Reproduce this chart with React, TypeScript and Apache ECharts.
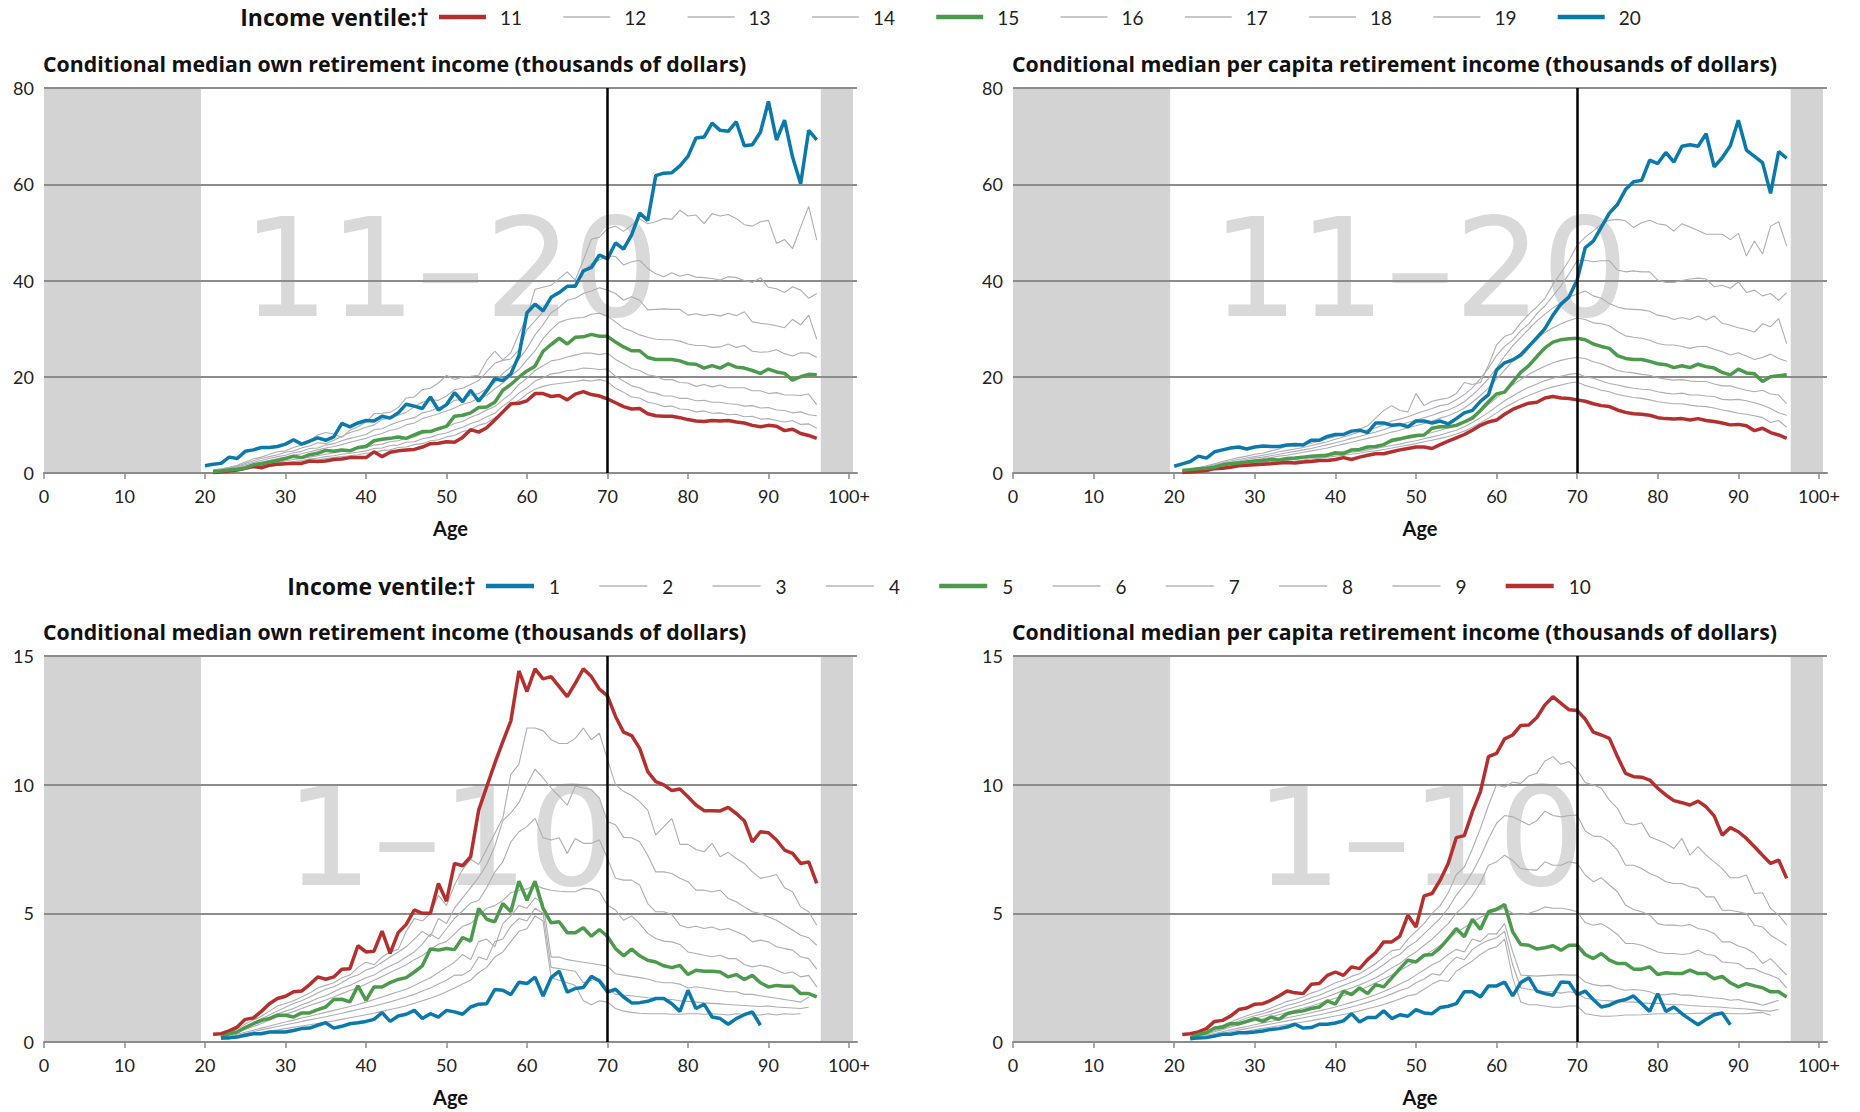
import React, { useEffect, useRef } from "react";
import * as echarts from "echarts";

// ---------- categories / ticks ----------
const AGES = [
  20, 21, 22, 23, 24, 25, 26, 27, 28, 29,
  30, 31, 32, 33, 34, 35, 36, 37, 38, 39,
  40, 41, 42, 43, 44, 45, 46, 47, 48, 49,
  50, 51, 52, 53, 54, 55, 56, 57, 58, 59,
  60, 61, 62, 63, 64, 65, 66, 67, 68, 69,
  70, 71, 72, 73, 74, 75, 76, 77, 78, 79,
  80, 81, 82, 83, 84, 85, 86, 87, 88, 89,
  90, 91, 92, 93, 94, 95, 96,
];
const X_TICKS = [0, 10, 20, 30, 40, 50, 60, 70, 80, 90, 100];
const TOP_NAMES = ["11", "12", "13", "14", "15", "16", "17", "18", "19", "20"];
const BOTTOM_NAMES = ["1", "2", "3", "4", "5", "6", "7", "8", "9", "10"];
const LEGEND_TITLE = "Income ventile:\u2020";
const TITLE_OWN = "Conditional median own retirement income (thousands of dollars)";
const TITLE_PC = "Conditional median per capita retirement income (thousands of dollars)";
const MARK_TOP = "11\u201320";
const MARK_BOTTOM = "1\u201310";
const TOP_Y_TICKS = [0, 20, 40, 60, 80];
const BOTTOM_Y_TICKS = [0, 5, 10, 15];

// ---------- top-left: own income, ventiles 11-20 ----------
const OWN_11 = [
  null, 0.1, 0.2, 0.4, 0.6, 1.0, 1.4, 1.1, 1.6, 1.8,
  1.9, 2.0, 2.0, 2.5, 2.4, 2.5, 2.8, 2.9, 3.2, 3.2,
  3.2, 4.4, 3.4, 4.3, 4.6, 4.8, 4.9, 5.4, 6.1, 6.2,
  6.5, 6.4, 7.4, 9.0, 8.5, 9.4, 11.0, 12.7, 14.4, 14.5,
  15.0, 16.5, 16.5, 15.9, 16.1, 15.2, 16.4, 16.9, 16.3, 16.0,
  15.4, 14.6, 13.8, 13.3, 13.4, 12.3, 11.9, 11.8, 11.8, 11.5,
  11.1, 10.8, 10.7, 10.9, 10.8, 10.9, 10.6, 10.4, 9.9, 9.6,
  9.9, 9.7, 8.8, 9.1, 8.2, 7.8, 7.2,
];
const OWN_12 = [
  null, 0.2, 0.3, 0.4, 0.6, 0.8, 1.0, 1.2, 1.4, 1.6,
  1.8, 2.1, 2.3, 2.5, 2.7, 3.0, 3.2, 3.4, 3.6, 3.8,
  4.1, 4.2, 4.7, 4.8, 5.3, 5.4, 5.9, 6.1, 6.7, 6.9,
  7.5, 7.8, 8.6, 9.0, 9.9, 10.4, 11.5, 12.5, 14.0, 15.1,
  16.4, 17.4, 18.0, 18.4, 18.6, 18.8, 19.0, 19.3, 19.1, 19.4,
  19.0, 17.6, 16.8, 15.8, 15.6, 14.7, 14.4, 13.8, 13.9, 13.3,
  13.2, 12.7, 12.9, 12.4, 12.5, 12.1, 12.2, 11.7, 11.8, 11.2,
  11.3, 10.9, 10.6, 10.9, 10.1, 10.2, 9.3,
];
const OWN_13 = [
  null, 0.25, 0.35, 0.5, 0.7, 0.9, 1.1, 1.4, 1.6, 1.9,
  2.1, 2.4, 2.6, 2.9, 3.1, 3.4, 3.6, 3.9, 4.1, 4.3,
  4.6, 5.1, 5.2, 5.7, 5.8, 6.4, 6.5, 7.1, 7.4, 8.0,
  8.3, 9.0, 9.5, 10.3, 10.8, 11.7, 12.4, 13.9, 15.1, 16.6,
  17.7, 19.1, 19.8, 20.6, 20.8, 21.3, 21.4, 21.8, 21.7, 21.5,
  21.6, 20.1, 19.1, 18.1, 17.7, 16.9, 16.6, 16.0, 16.0, 15.5,
  15.5, 15.0, 15.1, 14.7, 14.7, 14.4, 14.3, 13.9, 14.0, 13.5,
  13.6, 13.1, 13.0, 12.5, 12.7, 12.1, 11.9,
];
const OWN_14 = [
  null, 0.3, 0.4, 0.6, 0.8, 1.0, 1.3, 1.6, 1.9, 2.2,
  2.5, 2.8, 3.0, 3.3, 3.6, 3.9, 4.2, 4.4, 4.7, 5.0,
  5.3, 5.8, 6.0, 6.5, 6.7, 7.3, 7.5, 8.2, 8.5, 9.2,
  9.5, 10.3, 10.7, 11.6, 12.2, 13.1, 13.8, 15.2, 16.5, 18.4,
  19.7, 21.3, 22.3, 23.3, 23.6, 24.1, 24.5, 24.9, 24.9, 24.6,
  24.9, 23.6, 22.7, 21.7, 21.3, 20.4, 20.1, 19.4, 19.4, 18.8,
  18.7, 18.0, 18.4, 17.9, 18.3, 17.7, 17.7, 17.7, 17.1, 17.1,
  16.5, 16.7, 16.2, 16.2, 16.1, 16.4, 14.2,
];
const OWN_15 = [
  null, 0.3, 0.4, 0.6, 0.8, 1.0, 1.7, 1.9, 2.3, 2.6,
  3.0, 3.5, 3.2, 3.8, 4.1, 4.7, 4.5, 4.8, 4.6, 5.3,
  5.5, 6.7, 7.0, 7.2, 7.5, 7.2, 7.9, 8.6, 8.6, 9.2,
  9.7, 11.8, 12.0, 12.5, 13.6, 13.7, 14.7, 17.2, 18.4, 19.9,
  21.2, 22.2, 25.3, 26.7, 28.0, 26.8, 28.2, 28.3, 28.8, 28.4,
  28.4, 27.2, 26.2, 25.4, 25.4, 24.0, 23.6, 23.6, 23.6, 23.3,
  22.7, 22.6, 21.8, 22.3, 21.8, 22.7, 22.0, 21.8, 21.3, 20.7,
  21.6, 21.0, 20.7, 19.3, 20.0, 20.5, 20.4,
];
const OWN_16 = [
  null, 0.4, 0.6, 0.9, 1.1, 1.5, 1.9, 2.3, 2.6, 3.0,
  3.3, 3.7, 4.0, 4.4, 4.8, 5.2, 5.5, 5.9, 6.4, 6.8,
  7.2, 7.8, 8.2, 8.9, 9.2, 10.0, 10.4, 11.3, 11.8, 12.3,
  12.9, 13.5, 14.3, 14.7, 15.6, 16.1, 17.5, 18.7, 20.2, 21.5,
  23.5, 25.4, 27.9, 29.8, 31.3, 31.9, 32.2, 32.3, 33.0, 33.2,
  32.6, 31.4, 30.1, 29.5, 28.7, 28.2, 27.8, 27.7, 27.7, 27.4,
  26.8, 26.5, 26.5, 26.1, 26.2, 26.8, 26.1, 26.5, 25.3, 25.1,
  25.2, 25.6, 24.8, 24.3, 25.0, 24.9, 24.0,
];
const OWN_17 = [
  null, 0.5, 0.7, 1.0, 1.3, 1.7, 2.2, 2.6, 3.0, 3.4,
  3.7, 4.2, 4.5, 5.1, 5.2, 5.8, 6.1, 6.7, 7.2, 7.6,
  8.0, 9.0, 9.2, 10.0, 10.6, 11.1, 11.5, 12.5, 12.9, 13.6,
  14.0, 15.1, 15.3, 16.2, 16.5, 17.5, 18.8, 20.7, 22.0, 23.6,
  25.9, 28.7, 30.8, 33.3, 34.4, 35.9, 36.3, 37.3, 37.8, 38.5,
  38.0, 37.3, 35.9, 36.6, 35.9, 33.9, 34.0, 34.1, 34.0, 34.0,
  32.8, 33.1, 32.7, 33.0, 32.6, 33.2, 32.7, 33.5, 31.4, 31.1,
  30.9, 30.6, 30.2, 31.9, 30.8, 32.8, 27.8,
];
const OWN_18 = [
  null, 0.5, 0.8, 1.1, 1.4, 2.0, 2.5, 3.0, 3.4, 3.8,
  4.3, 4.6, 5.2, 5.6, 6.3, 6.1, 6.8, 7.6, 8.4, 8.9,
  9.5, 10.0, 11.1, 11.4, 12.0, 12.6, 13.8, 14.7, 15.2, 15.1,
  16.0, 17.3, 17.6, 18.4, 19.2, 21.0, 22.8, 23.4, 23.7, 25.6,
  29.8, 31.6, 33.5, 36.5, 37.6, 38.8, 39.2, 41.8, 43.5, 44.3,
  45.1, 45.0, 43.2, 43.9, 44.2, 42.5, 41.4, 40.8, 41.6, 40.9,
  41.3, 40.7, 40.6, 40.4, 40.1, 40.8, 40.6, 40.0, 39.6, 40.6,
  38.6, 38.3, 37.5, 38.7, 38.0, 36.3, 37.3,
];
const OWN_19 = [
  null, 0.6, 0.9, 1.2, 1.6, 2.3, 2.9, 3.3, 3.9, 4.4,
  4.6, 5.3, 5.8, 6.7, 7.9, 8.4, 8.1, 7.4, 8.9, 9.6,
  10.6, 12.3, 12.4, 12.6, 13.6, 15.6, 15.8, 17.3, 17.6, 18.7,
  20.3, 19.4, 20.0, 20.1, 20.3, 23.4, 25.3, 23.5, 25.0, 29.0,
  32.4, 38.2, 38.6, 39.0, 40.4, 41.8, 40.1, 44.2, 48.6, 49.0,
  50.8, 51.3, 50.2, 51.5, 52.8, 51.8, 52.2, 52.9, 52.7, 54.6,
  53.4, 53.6, 51.8, 53.9, 53.4, 53.7, 52.9, 51.6, 51.3, 52.2,
  52.5, 47.7, 48.5, 46.6, 51.1, 55.4, 48.4,
];
const OWN_20 = [
  1.5, 1.8, 2.0, 3.3, 3.0, 4.5, 4.8, 5.3, 5.3, 5.5,
  6.0, 6.9, 6.0, 6.6, 7.3, 6.8, 7.5, 10.3, 9.6, 10.4,
  10.9, 10.8, 11.8, 11.4, 12.5, 14.3, 13.9, 13.4, 15.8, 13.1,
  14.2, 16.7, 14.8, 17.2, 14.9, 17.1, 19.6, 19.2, 20.6, 24.4,
  33.3, 35.1, 33.7, 36.5, 37.5, 38.8, 38.8, 42.0, 42.7, 45.3,
  44.5, 47.8, 46.5, 49.5, 54.0, 52.5, 61.8, 62.3, 62.4, 63.8,
  65.8, 69.6, 69.8, 72.7, 71.2, 71.0, 73.0, 68.0, 68.2, 70.8,
  77.2, 69.2, 73.3, 65.6, 60.1, 71.2, 69.2,
];

// ---------- top-right: per capita income, ventiles 11-20 ----------
const PC_11 = [
  null, 0.1, 0.2, 0.35, 0.5, 0.9, 1.0, 1.2, 1.5, 1.6,
  1.7, 1.8, 1.9, 2.1, 2.2, 2.1, 2.3, 2.4, 2.6, 2.6,
  2.8, 3.2, 2.8, 3.3, 3.7, 4.0, 4.0, 4.4, 4.8, 5.1,
  5.4, 5.4, 5.1, 5.9, 6.6, 7.3, 8.0, 8.9, 9.9, 10.6,
  11.0, 12.2, 13.2, 13.9, 14.5, 14.7, 15.6, 15.9, 15.6, 15.5,
  15.2, 14.9, 14.4, 14.0, 13.8, 13.1, 12.6, 12.3, 12.2, 12.0,
  11.5, 11.3, 11.2, 11.3, 11.0, 11.3, 10.9, 10.7, 10.4, 10.0,
  10.1, 9.8, 8.8, 9.3, 8.4, 7.9, 7.2,
];
const PC_12 = [
  null, 0.15, 0.25, 0.4, 0.6, 0.8, 1.0, 1.2, 1.4, 1.5,
  1.7, 1.9, 2.0, 2.2, 2.4, 2.5, 2.7, 2.9, 3.1, 3.3,
  3.5, 3.7, 3.9, 4.1, 4.4, 4.6, 4.9, 5.2, 5.5, 5.8,
  6.1, 6.5, 6.8, 7.2, 7.6, 8.1, 8.7, 9.5, 10.4, 11.4,
  12.5, 13.6, 14.5, 15.4, 16.1, 16.8, 17.4, 17.9, 18.3, 18.7,
  18.9, 18.2, 17.7, 17.2, 16.9, 16.3, 16.0, 15.7, 15.5, 15.2,
  14.8, 14.6, 14.4, 14.4, 14.1, 13.9, 13.8, 13.5, 13.1, 12.8,
  12.4, 12.2, 11.9, 11.5, 10.5, 10.9, 9.5,
];
const PC_13 = [
  null, 0.2, 0.3, 0.5, 0.7, 0.9, 1.1, 1.3, 1.5, 1.7,
  1.9, 2.1, 2.2, 2.4, 2.6, 2.8, 3.0, 3.2, 3.4, 3.6,
  3.8, 4.0, 4.3, 4.5, 4.8, 5.1, 5.4, 5.7, 6.0, 6.4,
  6.7, 7.1, 7.5, 7.9, 8.4, 8.9, 9.6, 10.5, 11.5, 12.6,
  13.8, 15.0, 16.0, 17.0, 17.8, 18.5, 19.2, 19.7, 20.1, 20.5,
  20.7, 20.0, 19.7, 19.1, 18.6, 18.3, 17.9, 17.6, 17.4, 17.3,
  16.9, 16.6, 16.4, 16.6, 16.2, 16.2, 16.0, 15.9, 15.3, 15.2,
  15.3, 15.0, 14.6, 14.1, 13.4, 12.5, 12.0,
];
const PC_14 = [
  null, 0.25, 0.4, 0.6, 0.8, 1.0, 1.2, 1.5, 1.7, 1.9,
  2.1, 2.3, 2.5, 2.7, 2.9, 3.1, 3.3, 3.5, 3.7, 4.0,
  4.2, 4.5, 4.8, 5.1, 5.4, 5.7, 6.0, 6.4, 6.8, 7.2,
  7.5, 8.0, 8.4, 8.9, 9.4, 10.0, 10.8, 11.8, 12.9, 14.2,
  15.6, 17.0, 18.3, 19.4, 20.5, 21.4, 22.2, 22.9, 23.4, 23.8,
  24.0, 23.8, 23.1, 22.7, 22.0, 21.3, 21.0, 20.8, 20.5, 20.3,
  19.8, 19.5, 19.3, 19.4, 19.1, 19.0, 19.0, 18.5, 18.1, 18.1,
  17.6, 17.2, 16.9, 17.2, 16.4, 16.2, 14.4,
];
const PC_15 = [
  null, 0.5, 0.7, 0.9, 1.0, 1.2, 1.7, 1.9, 2.1, 2.3,
  2.5, 2.6, 2.8, 2.7, 3.0, 3.1, 3.3, 3.5, 3.6, 3.7,
  4.2, 4.0, 4.8, 4.9, 5.4, 5.5, 5.9, 6.8, 7.1, 7.5,
  7.8, 7.9, 9.3, 9.6, 9.6, 9.9, 10.6, 11.4, 13.0, 14.8,
  16.4, 16.8, 18.9, 20.9, 22.3, 24.2, 26.0, 27.2, 27.7, 27.9,
  28.0, 27.7, 26.8, 26.3, 25.9, 24.4, 23.8, 23.6, 23.6, 23.2,
  22.7, 22.5, 21.9, 22.3, 21.9, 22.6, 22.1, 21.8, 20.9, 20.4,
  21.6, 20.8, 20.6, 19.0, 20.0, 20.2, 20.4,
];
const PC_16 = [
  null, 0.3, 0.5, 0.8, 1.0, 1.3, 1.6, 1.9, 2.2, 2.5,
  2.7, 3.0, 3.2, 3.5, 3.7, 4.0, 4.3, 4.6, 4.9, 5.2,
  5.6, 6.0, 6.4, 6.8, 7.2, 7.6, 8.0, 8.5, 8.9, 9.4,
  9.8, 10.3, 10.8, 11.4, 11.9, 12.6, 13.5, 14.7, 16.1, 17.7,
  19.5, 21.4, 23.3, 25.0, 26.6, 28.0, 29.2, 30.2, 31.0, 31.7,
  32.2, 31.9, 31.2, 31.0, 30.6, 29.4, 28.5, 28.2, 28.0, 27.6,
  26.9, 26.6, 26.6, 26.3, 25.9, 26.3, 26.3, 25.7, 25.2, 24.5,
  25.0, 24.3, 23.6, 24.0, 24.7, 23.8, 23.2,
];
const PC_17 = [
  null, 0.4, 0.6, 0.9, 1.2, 1.5, 1.9, 2.2, 2.5, 2.8,
  3.1, 3.3, 3.6, 3.9, 4.2, 4.5, 4.8, 5.1, 5.5, 5.9,
  6.3, 6.7, 7.2, 7.6, 8.1, 8.5, 9.0, 9.6, 10.0, 10.5,
  11.0, 11.5, 12.0, 12.6, 13.1, 13.8, 14.8, 16.2, 17.8, 19.6,
  21.8, 24.3, 26.4, 28.2, 29.9, 31.6, 33.0, 34.3, 35.4, 36.6,
  37.2, 37.8, 36.8, 36.3, 35.2, 34.5, 34.1, 34.0, 33.9, 33.6,
  32.8, 32.5, 31.9, 32.3, 31.9, 32.6, 31.8, 32.6, 31.1, 30.7,
  30.2, 29.8, 29.3, 31.0, 30.4, 32.1, 26.9,
];
const PC_18 = [
  null, 0.4, 0.7, 1.0, 1.3, 1.7, 2.1, 2.5, 2.8, 3.1,
  3.4, 3.7, 4.0, 4.4, 4.7, 5.0, 5.3, 5.7, 6.1, 6.5,
  7.0, 7.5, 8.0, 8.5, 9.0, 9.4, 10.0, 10.8, 11.2, 11.7,
  12.3, 12.9, 13.4, 14.0, 14.3, 15.2, 16.3, 17.7, 19.6, 21.8,
  24.4, 26.3, 27.6, 29.6, 31.0, 33.1, 34.7, 36.8, 38.9, 41.4,
  44.1, 44.2, 43.9, 44.1, 44.1, 42.2, 41.8, 42.0, 41.8, 41.8,
  40.1, 39.6, 39.6, 40.0, 40.3, 40.5, 40.3, 38.7, 39.0, 38.4,
  39.7, 37.5, 38.0, 36.8, 37.3, 35.9, 37.5,
];
const PC_19 = [
  null, 0.5, 0.8, 1.1, 1.5, 1.9, 2.4, 2.8, 3.2, 3.5,
  3.9, 4.1, 4.6, 5.0, 5.6, 5.5, 5.9, 6.2, 6.6, 7.1,
  7.6, 8.1, 8.6, 9.1, 9.8, 11.4, 13.0, 14.0, 13.0, 12.7,
  16.5, 14.0, 14.9, 15.3, 15.6, 16.5, 18.8, 18.4, 18.8, 22.4,
  26.6, 28.4, 29.0, 31.2, 33.0, 34.5, 36.3, 39.2, 41.6, 44.2,
  47.3, 49.0, 50.3, 51.7, 52.5, 52.7, 52.4, 51.0, 52.0, 52.5,
  51.8, 51.5, 50.3, 51.8, 51.1, 50.4, 49.6, 49.6, 49.6, 48.5,
  49.8, 45.1, 48.2, 45.5, 51.3, 52.2, 47.2,
];
const PC_20 = [
  1.4, 1.9, 2.4, 3.5, 3.1, 4.4, 4.8, 5.2, 5.4, 5.0,
  5.4, 5.6, 5.5, 5.5, 5.8, 5.9, 5.8, 6.8, 6.8, 7.6,
  8.0, 8.0, 8.7, 8.9, 8.4, 10.4, 10.4, 9.9, 10.1, 9.6,
  10.8, 10.8, 10.4, 10.8, 10.2, 11.3, 12.5, 13.0, 14.9, 16.3,
  21.4, 22.9, 23.5, 24.5, 26.3, 28.1, 30.0, 32.8, 35.1, 36.6,
  40.1, 46.8, 48.2, 51.1, 54.0, 55.8, 58.9, 60.5, 60.8, 65.0,
  64.3, 66.6, 64.6, 67.9, 68.2, 67.9, 70.5, 63.6, 65.5, 68.0,
  73.3, 67.1, 65.8, 64.5, 58.1, 66.8, 65.4,
];

// ---------- bottom-left: own income, ventiles 1-10 ----------
const OWN_1 = [
  null, null, 0.16, 0.16, 0.19, 0.26, 0.32, 0.32, 0.39, 0.39,
  0.39, 0.45, 0.52, 0.54, 0.65, 0.75, 0.54, 0.61, 0.71, 0.75,
  0.80, 0.88, 1.14, 0.80, 1.01, 1.08, 1.23, 0.91, 1.10, 0.97,
  1.23, 1.17, 1.08, 1.36, 1.47, 1.49, 2.04, 2.01, 1.84, 2.32,
  2.27, 2.52, 1.79, 2.50, 2.75, 1.94, 2.08, 2.12, 2.55, 2.37,
  1.94, 2.05, 1.75, 1.52, 1.53, 1.58, 1.69, 1.69, 1.49, 1.19,
  2.01, 1.30, 1.47, 0.97, 0.91, 0.69, 0.91, 1.06, 1.17, 0.65,
  null, null, null, null, null, null, null,
];
const OWN_2 = [
  null, null, 0.11, 0.16, 0.21, 0.27, 0.32, 0.37, 0.42, 0.47,
  0.52, 0.57, 0.62, 0.67, 0.72, 0.77, 0.82, 0.88, 0.94, 1.00,
  1.06, 1.12, 1.19, 1.26, 1.33, 1.41, 1.50, 1.60, 1.70, 1.82,
  1.95, 2.10, 2.25, 2.40, 2.70, 2.90, 3.30, 3.50, 3.90, 4.30,
  4.40, 4.90, 4.70, 2.50, 2.40, 2.30, 2.20, 1.60, 1.45, 1.60,
  1.55, 1.30, 1.20, 1.15, 1.12, 1.10, 1.10, 1.10, 1.08, 1.08,
  1.10, 1.10, 1.08, 1.10, 1.08, 1.05, 1.10, 1.08, 1.05, 1.05,
  1.10, 1.05, 1.10, 1.08, 1.10, null, null,
];
const OWN_3 = [
  null, null, 0.13, 0.19, 0.26, 0.33, 0.40, 0.47, 0.54, 0.60,
  0.67, 0.73, 0.80, 0.86, 0.92, 0.98, 1.05, 1.12, 1.19, 1.26,
  1.33, 1.40, 1.48, 1.56, 1.65, 1.75, 1.85, 1.98, 2.10, 2.25,
  2.40, 2.60, 2.60, 2.80, 3.30, 3.20, 3.90, 4.00, 4.50, 4.80,
  4.70, 5.20, 5.00, 2.90, 2.85, 2.80, 2.75, 2.30, 2.40, 2.45,
  2.10, 1.85, 1.82, 1.80, 1.76, 1.72, 1.70, 1.66, 1.65, 1.60,
  1.58, 1.55, 1.52, 1.50, 1.48, 1.46, 1.44, 1.42, 1.40, 1.38,
  1.40, 1.36, 1.34, 1.32, 1.30, 1.35, null,
];
const OWN_4 = [
  null, null, 0.15, 0.22, 0.30, 0.38, 0.46, 0.54, 0.62, 0.70,
  0.78, 0.85, 0.93, 1.00, 1.08, 1.15, 1.23, 1.30, 1.38, 1.46,
  1.55, 1.65, 1.75, 1.85, 1.95, 2.05, 2.20, 2.35, 2.50, 2.70,
  2.90, 3.10, 3.40, 3.20, 3.90, 4.00, 3.70, 4.60, 4.90, 5.30,
  5.20, 5.60, 5.40, 3.30, 3.30, 3.20, 3.15, 3.10, 3.05, 3.00,
  2.95, 2.65, 2.60, 2.55, 2.50, 2.45, 2.35, 2.30, 2.30, 2.25,
  2.10, 2.15, 2.10, 2.05, 2.00, 1.95, 1.95, 1.85, 1.85, 1.80,
  1.75, 1.70, 1.65, 1.60, 1.55, 1.75, null,
];
const OWN_5 = [
  null, null, 0.15, 0.32, 0.39, 0.56, 0.71, 0.84, 0.91, 1.04,
  1.04, 0.97, 1.13, 1.13, 1.26, 1.36, 1.65, 1.66, 1.56, 2.18,
  1.62, 2.14, 2.14, 2.31, 2.43, 2.50, 2.72, 2.96, 3.61, 3.57,
  3.63, 3.59, 4.06, 3.92, 5.19, 4.77, 4.67, 5.38, 5.06, 6.25,
  5.51, 6.25, 5.19, 4.63, 4.67, 4.25, 4.25, 4.44, 4.11, 4.37,
  4.10, 3.63, 3.35, 3.61, 3.35, 3.18, 3.11, 2.96, 2.89, 2.98,
  2.62, 2.79, 2.75, 2.75, 2.72, 2.53, 2.62, 2.43, 2.59, 2.30,
  2.14, 2.20, 2.17, 2.17, 1.88, 1.88, 1.75,
];
const OWN_6 = [
  null, null, 0.18, 0.27, 0.37, 0.50, 0.60, 0.72, 0.85, 0.97,
  1.08, 1.18, 1.30, 1.42, 1.52, 1.63, 1.75, 1.88, 2.00, 2.10,
  2.25, 2.40, 2.55, 2.70, 2.85, 3.00, 3.20, 3.35, 3.60, 3.80,
  3.90, 4.20, 4.50, 4.60, 4.90, 5.20, 5.30, 5.50, 5.80, 5.90,
  5.95, 6.10, 5.97, 5.90, 5.86, 5.84, 5.84, 5.97, 5.95, 5.84,
  5.32, 5.13, 4.73, 4.90, 4.60, 4.22, 4.02, 3.92, 3.89, 3.79,
  3.50, 3.44, 3.37, 3.31, 3.37, 3.24, 3.24, 3.01, 2.92, 2.98,
  2.92, 2.79, 2.66, 2.72, 2.53, 2.59, 2.14,
];
const OWN_7 = [
  null, null, 0.20, 0.30, 0.40, 0.55, 0.68, 0.80, 0.95, 1.10,
  1.20, 1.30, 1.45, 1.55, 1.70, 1.80, 1.95, 2.10, 2.20, 2.35,
  2.50, 2.60, 2.80, 2.95, 3.10, 3.30, 3.50, 3.80, 4.20, 4.00,
  4.40, 4.80, 5.10, 5.40, 5.50, 6.00, 6.60, 7.00, 7.78, 8.17,
  8.37, 8.69, 7.94, 7.85, 7.94, 7.33, 7.91, 7.72, 7.72, 7.85,
  7.13, 6.36, 6.29, 6.29, 6.10, 5.38, 5.06, 5.06, 4.95, 4.54,
  4.44, 4.50, 4.41, 4.47, 4.35, 4.41, 4.28, 4.15, 3.89, 3.96,
  3.89, 3.70, 3.63, 3.57, 3.31, 3.24, 2.83,
];
const OWN_8 = [
  null, null, 0.22, 0.32, 0.45, 0.60, 0.75, 0.90, 1.05, 1.20,
  1.35, 1.50, 1.60, 1.75, 1.90, 2.05, 2.15, 2.30, 2.50, 2.60,
  2.80, 2.90, 3.10, 3.30, 3.50, 3.70, 4.00, 4.30, 4.10, 4.80,
  4.60, 5.20, 5.60, 6.00, 6.40, 6.90, 7.60, 8.60, 8.90, 9.30,
  10.00, 10.60, 10.26, 9.87, 9.55, 9.20, 9.94, 9.87, 9.81, 9.48,
  8.56, 8.44, 7.95, 7.94, 7.78, 7.26, 6.61, 6.61, 6.55, 6.36,
  6.23, 5.90, 5.90, 5.84, 5.90, 5.58, 5.45, 5.25, 5.06, 4.99,
  4.86, 4.73, 4.54, 4.35, 4.15, 4.05, 3.76,
];
const OWN_9 = [
  null, null, 0.25, 0.35, 0.50, 0.70, 0.85, 1.00, 1.20, 1.40,
  1.50, 1.60, 1.75, 1.90, 2.10, 2.20, 2.30, 2.50, 2.60, 2.90,
  3.10, 3.00, 3.30, 3.50, 3.60, 4.30, 4.80, 4.70, 5.00, 5.70,
  5.30, 6.10, 6.70, 7.10, 6.90, 7.50, 8.10, 8.70, 10.40, 10.80,
  12.20, 12.20, 12.10, 11.75, 11.60, 11.60, 11.80, 12.20, 11.75, 12.00,
  10.97, 10.00, 9.74, 9.58, 9.34, 9.01, 8.04, 8.37, 8.69, 7.68,
  7.68, 7.48, 7.39, 7.72, 7.20, 7.37, 7.13, 6.94, 6.61, 6.36,
  6.42, 6.51, 5.99, 5.84, 5.25, 5.06, 4.54,
];
const OWN_10 = [
  null, 0.30, 0.32, 0.43, 0.58, 0.88, 0.93, 1.19, 1.49, 1.69,
  1.78, 1.95, 1.98, 2.23, 2.53, 2.44, 2.53, 2.83, 2.85, 3.74,
  3.50, 3.53, 4.31, 3.44, 4.25, 4.57, 5.13, 5.00, 5.00, 6.16,
  5.47, 6.94, 6.85, 7.20, 9.01, 9.92, 10.83, 11.67, 12.48, 14.42,
  13.62, 14.50, 14.11, 14.20, 13.81, 13.42, 13.94, 14.50, 14.20, 13.71,
  13.45, 12.65, 12.04, 11.91, 11.41, 10.51, 10.12, 9.99, 9.77, 9.83,
  9.53, 9.21, 8.99, 8.99, 8.98, 9.12, 8.88, 8.60, 7.78, 8.17,
  8.13, 7.85, 7.46, 7.33, 6.94, 7.00, 6.16,
];

// ---------- bottom-right: per capita income, ventiles 1-10 ----------
const PC_1 = [
  null, null, 0.13, 0.16, 0.17, 0.23, 0.30, 0.30, 0.36, 0.36,
  0.39, 0.43, 0.49, 0.52, 0.58, 0.69, 0.54, 0.56, 0.69, 0.69,
  0.74, 0.82, 1.10, 0.78, 0.95, 0.95, 1.21, 0.91, 1.06, 1.00,
  1.26, 1.13, 1.10, 1.34, 1.39, 1.49, 1.95, 1.95, 1.75, 2.18,
  2.18, 2.33, 1.79, 2.31, 2.50, 1.98, 1.88, 1.82, 2.33, 2.31,
  1.84, 1.98, 1.65, 1.36, 1.43, 1.58, 1.65, 1.79, 1.49, 1.19,
  1.88, 1.19, 1.36, 1.10, 0.88, 0.67, 0.88, 1.06, 1.13, 0.67,
  null, null, null, null, null, null, null,
];
const PC_2 = [
  null, null, 0.09, 0.13, 0.18, 0.23, 0.28, 0.33, 0.38, 0.43,
  0.48, 0.53, 0.58, 0.63, 0.68, 0.73, 0.78, 0.83, 0.89, 0.95,
  1.01, 1.07, 1.14, 1.21, 1.29, 1.37, 1.46, 1.56, 1.67, 1.80,
  1.85, 2.05, 2.25, 2.40, 2.35, 2.75, 2.95, 3.15, 3.40, 3.60,
  3.70, 4.00, 2.50, 1.55, 1.45, 1.45, 1.40, 1.35, 1.35, 1.40,
  1.40, 1.10, 1.05, 1.00, 1.00, 1.02, 1.05, 1.05, 1.06, 1.08,
  1.10, 1.10, 1.10, 1.12, 1.10, 1.12, 1.12, 1.13, 1.12, 1.10,
  1.10, 1.10, 1.13, 1.15, 1.04, null, null,
];
const PC_3 = [
  null, null, 0.11, 0.16, 0.22, 0.28, 0.34, 0.40, 0.46, 0.52,
  0.58, 0.64, 0.70, 0.76, 0.82, 0.88, 0.94, 1.00, 1.06, 1.13,
  1.20, 1.28, 1.36, 1.45, 1.54, 1.64, 1.75, 1.87, 2.00, 2.10,
  2.30, 2.45, 2.65, 2.60, 3.00, 3.30, 3.20, 3.60, 3.80, 3.95,
  4.05, 4.30, 3.00, 2.10, 2.05, 2.00, 1.95, 1.95, 1.90, 1.95,
  1.90, 1.70, 1.65, 1.62, 1.60, 1.58, 1.56, 1.55, 1.52, 1.50,
  1.50, 1.47, 1.45, 1.45, 1.42, 1.40, 1.38, 1.37, 1.35, 1.32,
  1.30, 1.28, 1.25, 1.22, 1.20, 1.26, null,
];
const PC_4 = [
  null, null, 0.13, 0.19, 0.26, 0.33, 0.40, 0.47, 0.54, 0.60,
  0.67, 0.74, 0.80, 0.87, 0.94, 1.00, 1.07, 1.14, 1.21, 1.28,
  1.36, 1.45, 1.54, 1.63, 1.73, 1.84, 1.96, 2.10, 2.25, 2.40,
  2.60, 2.80, 3.00, 3.15, 3.40, 3.60, 3.50, 4.00, 3.90, 4.20,
  4.20, 4.60, 3.50, 2.60, 2.58, 2.56, 2.58, 2.60, 2.62, 2.60,
  2.60, 2.33, 2.23, 2.18, 2.20, 2.08, 2.01, 2.04, 2.01, 1.95,
  1.82, 1.84, 1.88, 1.82, 1.82, 1.78, 1.75, 1.71, 1.69, 1.62,
  1.65, 1.56, 1.52, 1.43, 1.52, 1.62, null,
];
const PC_5 = [
  null, null, 0.16, 0.29, 0.36, 0.54, 0.58, 0.71, 0.71, 0.80,
  0.91, 0.80, 0.97, 0.88, 1.10, 1.17, 1.21, 1.30, 1.36, 1.60,
  1.47, 1.98, 1.84, 2.10, 1.88, 2.23, 2.14, 2.49, 2.85, 3.18,
  3.11, 3.37, 3.40, 3.66, 4.02, 4.41, 4.09, 4.77, 4.38, 5.06,
  5.16, 5.34, 4.28, 3.79, 3.76, 3.61, 3.66, 3.74, 3.57, 3.76,
  3.76, 3.40, 3.24, 3.44, 3.18, 3.05, 3.05, 2.83, 2.83, 2.92,
  2.62, 2.69, 2.66, 2.66, 2.79, 2.66, 2.66, 2.46, 2.55, 2.30,
  2.14, 2.27, 2.18, 2.11, 1.95, 1.95, 1.75,
];
const PC_6 = [
  null, null, 0.15, 0.22, 0.30, 0.40, 0.48, 0.57, 0.66, 0.75,
  0.83, 0.90, 0.98, 1.06, 1.15, 1.23, 1.31, 1.40, 1.50, 1.60,
  1.70, 1.80, 1.92, 2.03, 2.15, 2.30, 2.45, 2.60, 2.78, 2.95,
  3.15, 3.35, 3.55, 3.75, 4.00, 4.25, 4.45, 4.65, 4.85, 5.00,
  5.10, 5.20, 5.00, 4.95, 5.00, 5.10, 5.25, 5.20, 5.20, 5.15,
  5.06, 4.64, 4.54, 4.60, 4.41, 4.18, 3.83, 3.83, 3.76, 3.63,
  3.50, 3.44, 3.44, 3.40, 3.44, 3.57, 3.40, 3.37, 3.11, 3.08,
  3.05, 2.85, 2.85, 2.70, 2.59, 2.46, 2.10,
];
const PC_7 = [
  null, null, 0.16, 0.24, 0.33, 0.44, 0.53, 0.63, 0.73, 0.83,
  0.92, 1.00, 1.08, 1.17, 1.27, 1.36, 1.45, 1.55, 1.65, 1.76,
  1.88, 2.00, 2.10, 2.22, 2.35, 2.50, 2.68, 2.88, 3.05, 3.30,
  3.50, 3.75, 4.00, 4.30, 4.60, 5.00, 5.30, 5.70, 6.20, 6.87,
  7.00, 7.26, 7.05, 6.74, 6.70, 6.68, 7.00, 6.87, 6.87, 7.00,
  6.94, 6.49, 6.23, 6.38, 6.10, 5.84, 5.32, 5.15, 5.06, 4.93,
  4.60, 4.54, 4.54, 4.51, 4.57, 4.41, 4.35, 4.22, 3.89, 3.89,
  3.73, 3.63, 3.44, 3.05, 3.24, 2.92, 2.60,
];
const PC_8 = [
  null, null, 0.18, 0.27, 0.37, 0.50, 0.60, 0.70, 0.82, 0.93,
  1.02, 1.10, 1.20, 1.30, 1.42, 1.50, 1.60, 1.72, 1.82, 1.95,
  2.08, 2.20, 2.32, 2.45, 2.60, 2.80, 3.00, 3.25, 3.40, 3.70,
  3.90, 4.20, 4.50, 4.80, 5.20, 5.70, 6.10, 6.60, 7.20, 7.90,
  8.50, 8.80, 8.75, 8.60, 8.43, 8.60, 8.97, 8.80, 8.75, 8.80,
  8.82, 8.20, 8.00, 7.98, 7.78, 7.46, 6.87, 6.87, 6.74, 6.55,
  6.42, 6.23, 6.16, 6.16, 6.03, 5.97, 5.64, 5.64, 5.12, 5.12,
  5.06, 4.99, 4.54, 4.47, 4.15, 3.96, 3.76,
];
const PC_9 = [
  null, null, 0.20, 0.30, 0.40, 0.55, 0.65, 0.78, 0.90, 1.02,
  1.12, 1.20, 1.32, 1.45, 1.58, 1.65, 1.75, 1.90, 2.00, 2.15,
  2.30, 2.40, 2.55, 2.65, 2.85, 3.05, 3.30, 3.55, 3.60, 4.00,
  4.30, 4.60, 5.00, 5.30, 5.80, 6.50, 6.80, 7.50, 8.30, 9.20,
  10.00, 9.90, 10.10, 10.05, 10.34, 10.44, 10.92, 11.09, 10.79, 10.90,
  10.57, 10.08, 9.99, 9.86, 9.40, 9.08, 8.50, 8.43, 8.52, 7.98,
  7.85, 7.72, 7.52, 7.91, 7.26, 7.59, 7.26, 7.00, 6.74, 6.38,
  6.38, 6.49, 5.77, 5.80, 5.19, 4.93, 4.55,
];
const PC_10 = [
  null, 0.29, 0.32, 0.39, 0.52, 0.80, 0.84, 1.01, 1.26, 1.32,
  1.47, 1.49, 1.62, 1.79, 1.98, 1.91, 1.88, 2.24, 2.27, 2.59,
  2.72, 2.59, 2.92, 2.85, 3.20, 3.48, 3.89, 3.89, 4.11, 4.93,
  4.47, 5.68, 5.77, 6.29, 6.94, 7.94, 8.02, 8.95, 9.73, 11.09,
  11.22, 11.78, 11.93, 12.30, 12.32, 12.61, 13.10, 13.42, 13.16, 12.91,
  12.88, 12.55, 12.04, 11.93, 11.80, 11.09, 10.44, 10.31, 10.29, 10.18,
  9.86, 9.60, 9.38, 9.30, 9.21, 9.36, 9.14, 8.79, 8.04, 8.33,
  8.17, 7.91, 7.59, 7.26, 6.94, 7.07, 6.36,
];

// ---------- styling ----------
const FONT = "Lato, 'Open Sans', 'DejaVu Sans', sans-serif";
const HEAD_FONT = "'Open Sans', Lato, 'DejaVu Sans', sans-serif";
const RED = "#b3302f";
const GREEN = "#4c9a4c";
const BLUE = "#0b79a9";
const GRAY_LINE = "#adadb3";
const GRID_LINE = "#8c8c8c";
const BAND = "#d3d3d3";
const HIGHLIGHT: Record<string, string> = {
  "11": RED, "15": GREEN, "20": BLUE,
  "10": RED, "5": GREEN, "1": BLUE,
};

const PANELS = [
  { names: TOP_NAMES, values: [OWN_11, OWN_12, OWN_13, OWN_14, OWN_15, OWN_16, OWN_17, OWN_18, OWN_19, OWN_20], yMax: 80, yTicks: TOP_Y_TICKS, title: TITLE_OWN, mark: MARK_TOP, box: { left: 44, top: 88, width: 813, height: 385 } },
  { names: TOP_NAMES, values: [PC_11, PC_12, PC_13, PC_14, PC_15, PC_16, PC_17, PC_18, PC_19, PC_20], yMax: 80, yTicks: TOP_Y_TICKS, title: TITLE_PC, mark: MARK_TOP, box: { left: 1013, top: 88, width: 814, height: 385 } },
  { names: BOTTOM_NAMES, values: [OWN_1, OWN_2, OWN_3, OWN_4, OWN_5, OWN_6, OWN_7, OWN_8, OWN_9, OWN_10], yMax: 15, yTicks: BOTTOM_Y_TICKS, title: TITLE_OWN, mark: MARK_BOTTOM, box: { left: 44, top: 656, width: 813, height: 386 } },
  { names: BOTTOM_NAMES, values: [PC_1, PC_2, PC_3, PC_4, PC_5, PC_6, PC_7, PC_8, PC_9, PC_10], yMax: 15, yTicks: BOTTOM_Y_TICKS, title: TITLE_PC, mark: MARK_BOTTOM, box: { left: 1013, top: 656, width: 814, height: 386 } },
];

function buildOption() {
  const grid: any[] = [];
  const xAxis: any[] = [];
  const yAxis: any[] = [];
  const series: any[] = [];
  const graphic: any[] = [];
  const hiOrder = [RED, GREEN, BLUE];

  PANELS.forEach((p, g) => {
    grid.push({ ...p.box, containLabel: false });
    xAxis.push({
      type: "value", gridIndex: g, min: 0, max: 101, interval: 10, z: 2,
      axisLine: { show: true, lineStyle: { color: GRID_LINE, width: 2 } },
      axisTick: { show: true, length: 6, customValues: X_TICKS, lineStyle: { color: GRID_LINE, width: 1.5 } },
      axisLabel: {
        customValues: X_TICKS, margin: 14, fontSize: 18, color: "#222", fontFamily: FONT,
        formatter: (v: number) => (v >= 100 ? "100+" : String(v)),
      },
      splitLine: { show: false },
      name: "Age", nameLocation: "middle", nameGap: 45,
      nameTextStyle: { fontSize: 20, fontWeight: "bold", color: "#111", fontFamily: FONT },
    });
    yAxis.push({
      type: "value", gridIndex: g, min: 0, max: p.yMax, interval: p.yTicks[1], z: 2,
      axisLine: { show: false }, axisTick: { show: false },
      axisLabel: { margin: 10, fontSize: 18, color: "#222", fontFamily: FONT },
      splitLine: { show: true, lineStyle: { color: GRID_LINE, width: 2 } },
    });

    // shaded bands outside the observed ages
    series.push({
      type: "line", xAxisIndex: g, yAxisIndex: g, data: [], silent: true, z: 1,
      markArea: {
        silent: true, itemStyle: { color: BAND },
        data: [[{ xAxis: 0 }, { xAxis: 19.5 }], [{ xAxis: 96.5 }, { xAxis: 100.5 }]],
      },
    });

    // grey ventiles first, then red, green, blue on top
    const order = p.names.map((_, i) => i);
    order.sort((a, b) => {
      const ca = HIGHLIGHT[p.names[a]];
      const cb = HIGHLIGHT[p.names[b]];
      const ra = ca ? 1 + hiOrder.indexOf(ca) : 0;
      const rb = cb ? 1 + hiOrder.indexOf(cb) : 0;
      return ra - rb;
    });
    order.forEach((i) => {
      const name = p.names[i];
      const vals = p.values[i];
      const color = HIGHLIGHT[name];
      series.push({
        type: "line", name, xAxisIndex: g, yAxisIndex: g, silent: true,
        data: AGES.map((a, k) => [a, vals[k]]),
        symbol: "none", showSymbol: false, connectNulls: false,
        lineStyle: { color: color || GRAY_LINE, width: color ? 3.5 : 1.1 },
        itemStyle: { color: color || GRAY_LINE },
        z: color ? 4 : 3,
      });
    });

    // age-70 reference line
    series.push({
      type: "line", xAxisIndex: g, yAxisIndex: g, data: [], silent: true, z: 6,
      markLine: {
        silent: true, symbol: ["none", "none"], label: { show: false },
        lineStyle: { color: "#000", width: 2.5, type: "solid" },
        data: [{ xAxis: 70 }],
      },
    });

    // panel title
    graphic.push({
      type: "text", x: p.box.left - 1, y: p.box.top - 25, z: 10,
      style: { text: p.title, fill: "#111", font: `bold 21.3px ${HEAD_FONT}`, textAlign: "left", textVerticalAlign: "middle", align: "left", verticalAlign: "middle" },
    });
    // watermark
    graphic.push({
      type: "text", x: p.box.left + p.box.width * 0.5, y: p.box.top + p.box.height * 0.47, z: 0, silent: true,
      style: { text: p.mark, fill: "#d9d9d9", font: `137px 'DejaVu Sans', sans-serif`, textAlign: "center", textVerticalAlign: "middle", align: "center", verticalAlign: "middle" },
    });
  });

  // legends
  const legends = [
    { names: TOP_NAMES, y: 17, x0: 439, step: 124.3, lineW: 47, textDx: 61 },
    { names: BOTTOM_NAMES, y: 586, x0: 486, step: 113.3, lineW: 48, textDx: 63 },
  ];
  legends.forEach((L) => {
    graphic.push({
      type: "text", x: L.x0 - 10, y: L.y, z: 10,
      style: { text: LEGEND_TITLE, fill: "#111", font: `bold 23px ${HEAD_FONT}`, textAlign: "right", textVerticalAlign: "middle", align: "right", verticalAlign: "middle" },
    });
    L.names.forEach((n, i) => {
      const x = L.x0 + i * L.step;
      const color = HIGHLIGHT[n];
      graphic.push({
        type: "line", z: 10, silent: true,
        shape: { x1: x, y1: L.y, x2: x + L.lineW, y2: L.y },
        style: { stroke: color || "#b4b4b4", lineWidth: color ? 4.5 : 1.5 },
      });
      graphic.push({
        type: "text", x: x + L.textDx, y: L.y, z: 10,
        style: { text: n, fill: "#222", font: `19px ${FONT}`, textAlign: "left", textVerticalAlign: "middle", align: "left", verticalAlign: "middle" },
      });
    });
  });

  return {
    animation: false,
    backgroundColor: "#ffffff",
    textStyle: { fontFamily: FONT },
    grid, xAxis, yAxis, series, graphic,
  };
}

export default function App() {
  const ref = useRef<HTMLDivElement | null>(null);
  useEffect(() => {
    if (!ref.current) return;
    const chart = echarts.init(ref.current, undefined, { renderer: "svg" });
    chart.setOption(buildOption() as any);
    return () => chart.dispose();
  }, []);
  return (
    <div
      ref={ref}
      style={{ position: "absolute", left: 0, top: 0, width: 1860, height: 1112, background: "#fff" }}
    />
  );
}
